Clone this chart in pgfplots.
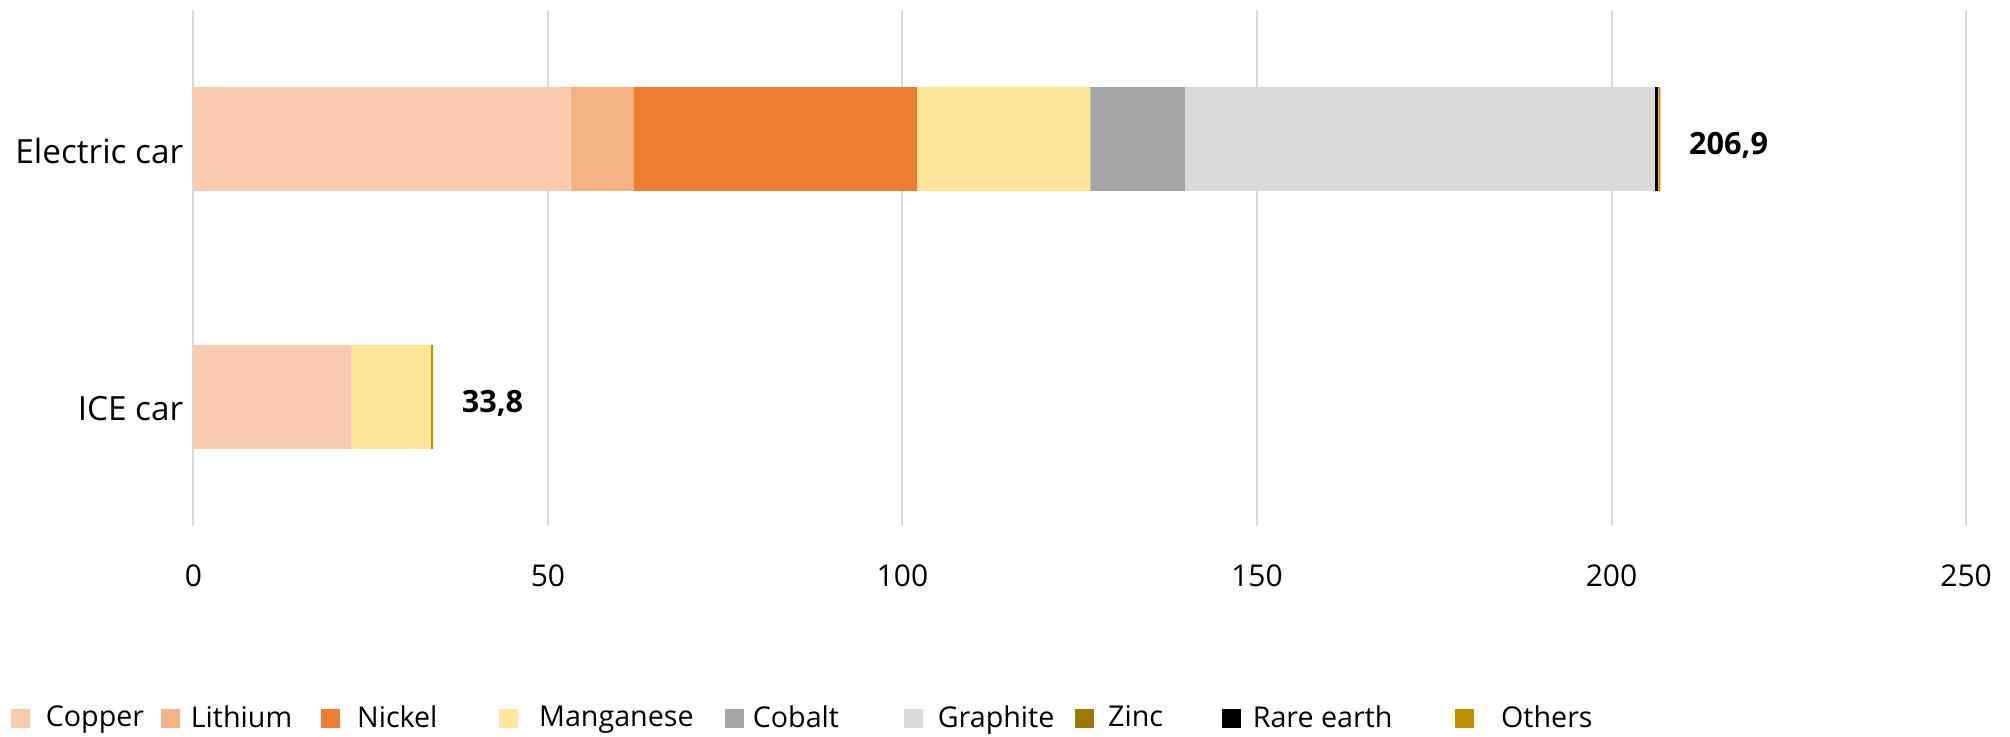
\documentclass[border=0pt]{standalone}
\usepackage{pgfplots}
\pgfplotsset{compat=1.18}
\usepackage{fontspec}
\setmainfont{Open Sans}
\definecolor{cCopper}{HTML}{F8CBAD}
\definecolor{cLithium}{HTML}{F4B183}
\definecolor{cNickel}{HTML}{ED7D31}
\definecolor{cMang}{HTML}{FFE699}
\definecolor{cCobalt}{HTML}{A5A5A5}
\definecolor{cGraph}{HTML}{D9D9D9}
\definecolor{cZinc}{HTML}{9C7A00}
\definecolor{cRare}{HTML}{000000}
\definecolor{cOther}{HTML}{BF9000}
\begin{document}
\begin{tikzpicture}
\useasboundingbox (-58.02pt,-63.3pt) rectangle (544.98pt,157.8pt);
\begin{axis}[
  at={(0,0)}, anchor=south west,
  scale only axis, width=531.8pt, height=154.8pt,
  xbar stacked, bar width=31.2pt,
  xmin=0, xmax=250, ymin=-0.5, ymax=1.5,
  xtick={0,50,100,150,200,250},
  ytick={0,1}, yticklabels={ICE car, Electric car},
  axis line style={draw=none},
  major tick length=0pt,
  xmajorgrids, major grid style={color=cGraph, line width=0.6pt},
  ymajorgrids=false,
  xticklabel style={font=\fontsize{9}{10}\selectfont, yshift=-8pt},
  yticklabel style={font=\fontsize{10}{11}\selectfont, xshift=0.5pt, yshift=-3.6pt},
  /pgf/number format/assume math mode=true,
  legend columns=9,
  legend image code/.code={\fill[#1,draw=none] (0pt,-2.85pt) rectangle (5.7pt,2.85pt);},
  legend style={at={(-0.1030,-0.374)}, anchor=west, draw=none, fill=none, inner sep=0pt, outer sep=0pt,
    font=\fontsize{8.6}{10}\selectfont,
    nodes={inner sep=0pt, outer sep=0pt},
    /tikz/every even column/.style={column sep=0pt},
    /tikz/every odd column/.style={column sep=0pt}},
  legend cell align=left,
]
\addplot[fill=cCopper, draw=none] coordinates {(22.3,0) (53.2,1)};
\addlegendentry{\makebox[39.3pt][l]{\hspace{4.8pt}Copper}}
\addplot[fill=cLithium, draw=none] coordinates {(0,0) (8.9,1)};
\addlegendentry{\makebox[42.3pt][l]{\hspace{3.3pt}Lithium}}
\addplot[fill=cNickel, draw=none] coordinates {(0,0) (39.9,1)};
\addlegendentry{\makebox[47.7pt][l]{\hspace{5.2pt}Nickel}}
\addplot[fill=cMang, draw=none] coordinates {(11.2,0) (24.5,1)};
\addlegendentry{\makebox[62.2pt][l]{\hspace{6.4pt}Manganese}}
\addplot[fill=cCobalt, draw=none] coordinates {(0,0) (13.3,1)};
\addlegendentry{\makebox[47.9pt][l]{\hspace{2.6pt}Cobalt}}
\addplot[fill=cGraph, draw=none] coordinates {(0,0) (66.3,1)};
\addlegendentry{\makebox[45.6pt][l]{\hspace{4.5pt}Graphite}}
\addplot[fill=cZinc, draw=none] coordinates {(0,0) (0,1)};
\addlegendentry{\makebox[38.5pt][l]{\hspace{4.3pt}Zinc}}
\addplot[fill=cRare, draw=none] coordinates {(0,0) (0.5,1)};
\addlegendentry{\makebox[64.1pt][l]{\hspace{3.5pt}Rare earth}}
\addplot[fill=cOther, draw=none,
  nodes near coords, point meta=explicit symbolic,
  nodes near coords style={anchor=west, xshift=5.4pt, yshift=-1.8pt, font=\fontsize{9.2}{10}\selectfont\bfseries, text=black}]
  coordinates {(0.3,0) [33,8] (0.3,1) [206,9]};
\addlegendentry{\hspace{8.2pt}Others}
\end{axis}
\end{tikzpicture}
\end{document}
